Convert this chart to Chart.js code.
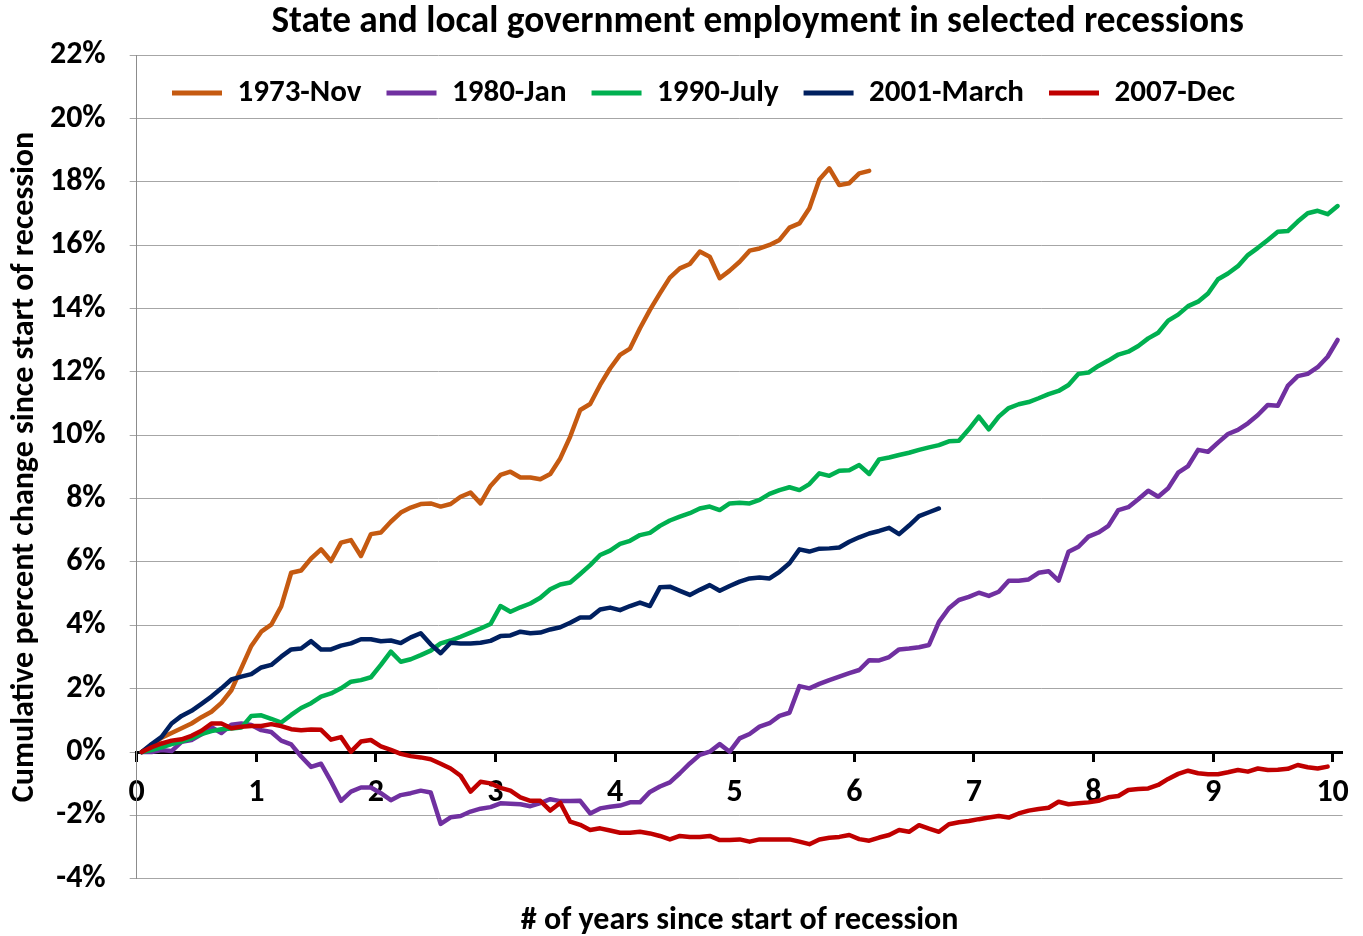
<!DOCTYPE html>
<html>
<head>
<meta charset="utf-8">
<script src="https://cdn.jsdelivr.net/npm/chart.js@4.4.1/dist/chart.umd.min.js"></script>
<style>
  html, body { margin: 0; padding: 0; background: #fff; }
  #wrap { width: 1363px; height: 936px; }
</style>
</head>
<body>
<div id="wrap"><canvas id="chart" width="1363" height="936"></canvas></div>
<script>
// monthly cumulative % change since the start of each recession (month 0 = start)
const seriesNames = ['1973-Nov', '1980-Jan', '1990-July', '2001-March', '2007-Dec'];
const seriesColors = ['#C55A11', '#7030A0', '#00B050', '#002060', '#C00000'];

const rec1973 = [0, 0.22, 0.45, 0.6, 0.75, 0.9, 1.1, 1.27, 1.55, 1.95, 2.65, 3.35, 3.8, 4.02, 4.6, 5.66,
  5.73, 6.11, 6.4, 6.03, 6.61, 6.69, 6.19, 6.88, 6.93, 7.27, 7.56, 7.72, 7.83, 7.85, 7.75, 7.83,
  8.06, 8.19, 7.85, 8.4, 8.75, 8.85, 8.67, 8.67, 8.61, 8.78, 9.27, 9.96, 10.8, 10.99, 11.59, 12.11,
  12.54, 12.74, 13.38, 13.96, 14.48, 14.98, 15.27, 15.41, 15.8, 15.64, 14.96, 15.2, 15.48, 15.83,
  15.9, 16.01, 16.17, 16.56, 16.69, 17.17, 18.08, 18.43, 17.9, 17.96, 18.27, 18.35];

const rec1980 = [0, 0, 0.06, 0.03, 0.32, 0.38, 0.56, 0.78, 0.6, 0.86, 0.9, 0.85, 0.69, 0.63, 0.36, 0.24,
  -0.14, -0.47, -0.37, -0.93, -1.54, -1.25, -1.12, -1.12, -1.3, -1.52, -1.36, -1.3, -1.22, -1.28,
  -2.27, -2.06, -2.02, -1.88, -1.79, -1.74, -1.62, -1.63, -1.65, -1.71, -1.61, -1.49, -1.55, -1.55,
  -1.54, -1.94, -1.78, -1.73, -1.69, -1.59, -1.59, -1.26, -1.09, -0.96, -0.67, -0.36, -0.09, 0.01,
  0.25, 0.01, 0.43, 0.57, 0.8, 0.91, 1.14, 1.24, 2.08, 2.01, 2.15, 2.27, 2.38, 2.49, 2.59, 2.9,
  2.89, 3.0, 3.24, 3.27, 3.31, 3.38, 4.11, 4.54, 4.8, 4.9, 5.03, 4.93, 5.06, 5.41, 5.41, 5.45,
  5.66, 5.71, 5.41, 6.32, 6.48, 6.8, 6.93, 7.14, 7.64, 7.73, 7.98, 8.25, 8.06, 8.33, 8.82, 9.03,
  9.54, 9.48, 9.77, 10.04, 10.17, 10.38, 10.64, 10.96, 10.93, 11.56, 11.87, 11.94, 12.15, 12.48, 13.01];

const rec1990 = [0, 0.06, 0.15, 0.25, 0.33, 0.43, 0.57, 0.66, 0.72, 0.74, 0.77, 1.14, 1.16, 1.05, 0.93,
  1.17, 1.39, 1.54, 1.75, 1.85, 2.01, 2.22, 2.27, 2.36, 2.75, 3.17, 2.85, 2.93, 3.06, 3.2, 3.43,
  3.52, 3.64, 3.77, 3.9, 4.04, 4.61, 4.43, 4.57, 4.69, 4.87, 5.14, 5.29, 5.35, 5.62, 5.9, 6.22,
  6.36, 6.57, 6.67, 6.85, 6.92, 7.14, 7.31, 7.43, 7.54, 7.69, 7.75, 7.64, 7.85, 7.87, 7.85, 7.96,
  8.15, 8.27, 8.36, 8.27, 8.46, 8.8, 8.72, 8.88, 8.9, 9.06, 8.78, 9.24, 9.3, 9.38, 9.45, 9.54,
  9.62, 9.69, 9.81, 9.83, 10.19, 10.59, 10.19, 10.59, 10.86, 10.98, 11.05, 11.17, 11.3, 11.4,
  11.59, 11.94, 11.98, 12.19, 12.36, 12.55, 12.64, 12.82, 13.06, 13.24, 13.62, 13.81, 14.08,
  14.22, 14.48, 14.93, 15.11, 15.34, 15.69, 15.92, 16.17, 16.43, 16.45, 16.75, 17.01, 17.09,
  16.98, 17.24];

const rec2001 = [0, 0.25, 0.48, 0.9, 1.14, 1.3, 1.52, 1.75, 2.01, 2.29, 2.38, 2.46, 2.67, 2.75, 3.01,
  3.24, 3.27, 3.5, 3.24, 3.24, 3.36, 3.43, 3.56, 3.56, 3.5, 3.52, 3.44, 3.62, 3.75, 3.4, 3.12,
  3.45, 3.43, 3.43, 3.45, 3.51, 3.66, 3.68, 3.8, 3.75, 3.77, 3.87, 3.94, 4.08, 4.25, 4.25, 4.5,
  4.56, 4.48, 4.61, 4.72, 4.61, 5.2, 5.22, 5.09, 4.96, 5.12, 5.27, 5.09, 5.24, 5.38, 5.48, 5.51,
  5.48, 5.69, 5.96, 6.4, 6.33, 6.42, 6.43, 6.46, 6.64, 6.78, 6.9, 6.98, 7.08, 6.88, 7.15, 7.45,
  7.57, 7.69];

const rec2007 = [0, 0.15, 0.27, 0.36, 0.4, 0.51, 0.67, 0.9, 0.9, 0.75, 0.8, 0.82, 0.82, 0.88, 0.82,
  0.72, 0.69, 0.71, 0.7, 0.39, 0.47, 0.01, 0.33, 0.38, 0.18, 0.07, -0.06, -0.13, -0.17, -0.23,
  -0.37, -0.52, -0.75, -1.25, -0.94, -0.99, -1.13, -1.22, -1.43, -1.54, -1.54, -1.85, -1.6, -2.2,
  -2.3, -2.46, -2.41, -2.48, -2.55, -2.55, -2.52, -2.57, -2.65, -2.76, -2.65, -2.68, -2.68, -2.65,
  -2.78, -2.78, -2.76, -2.83, -2.76, -2.76, -2.76, -2.76, -2.83, -2.91, -2.76, -2.71, -2.68,
  -2.62, -2.75, -2.8, -2.7, -2.62, -2.46, -2.52, -2.31, -2.42, -2.52, -2.28, -2.22, -2.18, -2.12,
  -2.07, -2.02, -2.07, -1.94, -1.85, -1.8, -1.76, -1.57, -1.65, -1.62, -1.59, -1.54, -1.43,
  -1.39, -1.2, -1.17, -1.15, -1.04, -0.85, -0.69, -0.59, -0.67, -0.7, -0.7, -0.64, -0.57, -0.62,
  -0.52, -0.57, -0.56, -0.53, -0.41, -0.48, -0.52, -0.46];

const xTickYears = [0, 1, 2, 3, 4, 5, 6, 7, 8, 9, 10];
const monthsOnAxis = 121;

const FONT = "Carlito, Lato, sans-serif";

// months sit in the middle of their slot, like an Excel category axis
function toPoints(values) {
  return values.map((v, i) => ({ x: (i + 0.5) / 12, y: v }));
}

const allSeries = [rec1973, rec1980, rec1990, rec2001, rec2007];

const datasets = allSeries.map((vals, k) => ({
  label: seriesNames[k],
  data: toPoints(vals),
  borderColor: seriesColors[k],
  backgroundColor: seriesColors[k],
  borderWidth: 4.5,
  pointRadius: 0,
  tension: 0,
  fill: false,
  borderJoinStyle: 'round',
  borderCapStyle: 'round',
  order: allSeries.length - 1 - k   // later recessions drawn on top
}));

const defaultLabels = Chart.defaults.plugins.legend.labels.generateLabels;

// the legend sits inside the plot, in one row under the 22% line,
// so take it out of the layout and draw it there ourselves
const legendInPlot = {
  id: 'legendInPlot',
  beforeLayout(chart) {
    if (chart.legend) Chart.layouts.removeBox(chart, chart.legend);
  },
  afterLayout(chart) {
    const lg = chart.legend;
    const area = chart.chartArea;
    lg.update(area.width, area.height, { left: 0, top: 0, right: 0, bottom: 0 });
    lg.left = 147;
    lg.right = lg.left + area.width;
    lg.top = 52.5;
    lg.bottom = lg.top + lg.height;
    // title in the original sits a little right of the plot centre
    if (chart.titleBlock) {
      chart.titleBlock.left += 18;
      chart.titleBlock.right += 18;
    }
  },
  beforeDatasetsDraw(chart) {
    chart.legend.draw();
  }
};

new Chart(document.getElementById('chart').getContext('2d'), {
  type: 'line',
  data: { datasets: datasets },
  plugins: [legendInPlot],
  options: {
    responsive: false,
    animation: false,
    devicePixelRatio: 1,
    layout: { padding: { left: 0, right: 11.4, top: 0, bottom: 0 } },
    plugins: {
      tooltip: { enabled: false },
      title: {
        display: true,
        fullSize: false,
        text: 'State and local government employment in selected recessions',
        color: '#000',
        font: { family: FONT, size: 37.3, weight: 'bold', lineHeight: 1.2 },
        padding: { top: 0, bottom: 10.5 }
      },
      subtitle: {
        display: true,
        fullSize: false,
        position: 'bottom',
        text: '# of years since start of recession',
        color: '#000',
        font: { family: FONT, size: 32, weight: 'bold', lineHeight: 0.95 },
        padding: { top: 26.9, bottom: 0 }
      },
      legend: {
        position: 'top',
        align: 'start',
        labels: {
          boxWidth: 50,
          boxHeight: 5,
          padding: 25,
          color: '#000',
          font: { family: FONT, size: 31, weight: 'bold' },
          sort: (a, b) => a.datasetIndex - b.datasetIndex,
          generateLabels: chart => defaultLabels(chart).map(item => {
            item.fillStyle = item.strokeStyle;
            item.lineWidth = 0;
            return item;
          })
        }
      }
    },
    scales: {
      x: {
        type: 'linear',
        min: 0,
        max: monthsOnAxis / 12,
        position: { y: 0 },
        afterBuildTicks: scale => { scale.ticks = xTickYears.map(v => ({ value: v })); },
        afterFit: scale => { scale.height = 0; },
        grid: {
          drawOnChartArea: false,
          drawTicks: true,
          tickLength: 8,
          tickColor: '#000',
          tickWidth: 3
        },
        border: { display: true, color: '#000', width: 3 },
        ticks: {
          color: '#000',
          padding: 14,
          maxRotation: 0,
          autoSkip: false,
          font: { family: FONT, size: 32, weight: 'bold' },
          callback: v => String(v)
        }
      },
      y: {
        min: -4,
        max: 22,
        afterFit: scale => { scale.width = 136.7; },
        grid: {
          color: ctx => (ctx.tick && ctx.tick.value === 0) ? 'rgba(0,0,0,0)' : '#a6a6a6',
          lineWidth: 1,
          tickLength: 7,
          tickColor: '#a6a6a6'
        },
        border: { display: true, color: '#8c8c8c', width: 1 },
        ticks: {
          stepSize: 2,
          color: '#000',
          padding: 24,
          font: { family: FONT, size: 32, weight: 'bold' },
          callback: v => v + '%'
        },
        title: {
          display: true,
          text: 'Cumulative percent change since start of recession',
          color: '#000',
          font: { family: FONT, size: 32, weight: 'bold', lineHeight: 1.2 },
          padding: { top: 5.8, bottom: 0 }
        }
      }
    }
  }
});
</script>
</body>
</html>
